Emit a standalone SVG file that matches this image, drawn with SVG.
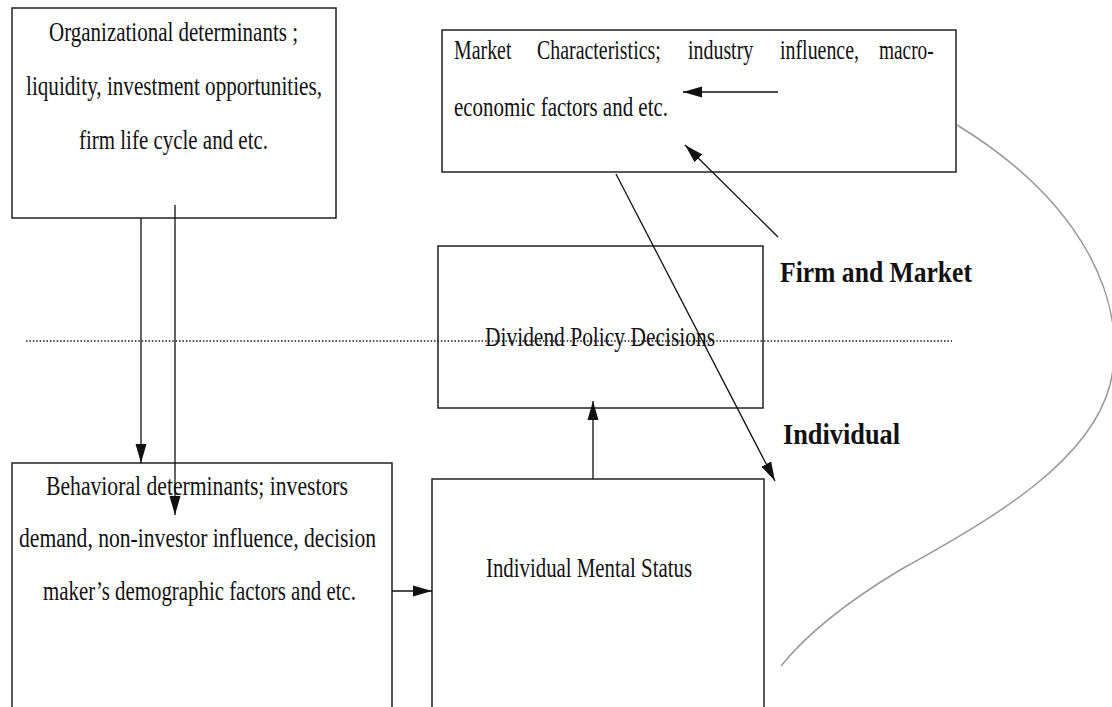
<svg xmlns="http://www.w3.org/2000/svg" width="1112" height="707" viewBox="0 0 1112 707">
<style>
.box{fill:#fff;stroke:#222;stroke-width:1.5}
.t{font-family:"Liberation Serif","Times New Roman",serif;font-size:28px;fill:#111}
.b{font-family:"Liberation Serif","Times New Roman",serif;font-size:30px;font-weight:bold;fill:#111}
.c{stroke:#111;stroke-width:1.3;fill:none}
</style>
<defs>
<marker id="ah" markerUnits="userSpaceOnUse" markerWidth="20" markerHeight="14" refX="19" refY="7" orient="auto">
<path d="M0,1.5 L19,7 L0,12.5 z" fill="#111"/>
</marker>
</defs>
<rect width="1112" height="707" fill="#fff"/>
<g id="n-org">
<rect class="box" x="12" y="8" width="324" height="210"/>
<text class="t" x="49" y="41" textLength="249" lengthAdjust="spacingAndGlyphs">Organizational determinants ;</text>
<text class="t" x="26" y="95" textLength="296" lengthAdjust="spacingAndGlyphs">liquidity, investment opportunities,</text>
<text class="t" x="79" y="149" textLength="189" lengthAdjust="spacingAndGlyphs">firm life cycle and etc.</text>
</g>
<g id="n-market">
<rect class="box" x="442" y="30" width="514" height="142"/>
<text class="t" transform="translate(454,59) scale(0.711,1)">Market</text>
<text class="t" transform="translate(537,59) scale(0.711,1)">Characteristics;</text>
<text class="t" transform="translate(688,59) scale(0.711,1)">industry</text>
<text class="t" transform="translate(780,59) scale(0.711,1)">influence,</text>
<text class="t" transform="translate(879,59) scale(0.69,1)">macro-</text>
<text class="t" x="454" y="116" textLength="214" lengthAdjust="spacingAndGlyphs">economic factors and etc.</text>
</g>
<g id="n-dividend">
<rect class="box" x="438" y="246" width="325" height="162"/>
<text class="t" x="485" y="346" textLength="230" lengthAdjust="spacingAndGlyphs">Dividend Policy  Decisions</text>
</g>
<g id="n-behavioral">
<rect class="box" x="12" y="463" width="380" height="250"/>
<text class="t" x="46" y="495" textLength="302" lengthAdjust="spacingAndGlyphs">Behavioral determinants; investors</text>
<text class="t" x="19" y="547" textLength="357" lengthAdjust="spacingAndGlyphs">demand, non-investor influence, decision</text>
<text class="t" x="43" y="600" textLength="313" lengthAdjust="spacingAndGlyphs">maker’s demographic factors and etc.</text>
</g>
<g id="n-mental">
<rect class="box" x="432" y="479" width="332" height="240"/>
<text class="t" x="486" y="577" textLength="206" lengthAdjust="spacingAndGlyphs">Individual Mental Status</text>
</g>
<g id="labels">
<text class="b" x="780" y="282" textLength="192" lengthAdjust="spacingAndGlyphs">Firm and Market</text>
<text class="b" x="783" y="444" textLength="117" lengthAdjust="spacingAndGlyphs">Individual</text>
</g>
<g id="connectors">
<line x1="26" y1="341" x2="952" y2="341" stroke="#222" stroke-width="1.6" stroke-dasharray="1.6 1.8"/>
<line class="c" x1="141" y1="218" x2="141" y2="463" marker-end="url(#ah)"/>
<line class="c" x1="175" y1="205" x2="175" y2="515" marker-end="url(#ah)"/>
<line class="c" x1="392" y1="591" x2="432" y2="591" marker-end="url(#ah)"/>
<line class="c" x1="593" y1="479" x2="593" y2="401" stroke-width="2.2" marker-end="url(#ah)"/>
<line class="c" x1="778" y1="92" x2="683" y2="92" stroke-width="1.8" marker-end="url(#ah)"/>
<line class="c" x1="778" y1="237" x2="685" y2="145" stroke-width="1.6" marker-end="url(#ah)"/>
<line class="c" x1="616" y1="174" x2="775" y2="481" marker-end="url(#ah)"/>
<path d="M957,125 C1080,200 1130,300 1110,385 C1090,460 1000,515 900,570 C850,600 810,630 781,666" fill="none" stroke="#999" stroke-width="1.5"/>
</g>
</svg>
